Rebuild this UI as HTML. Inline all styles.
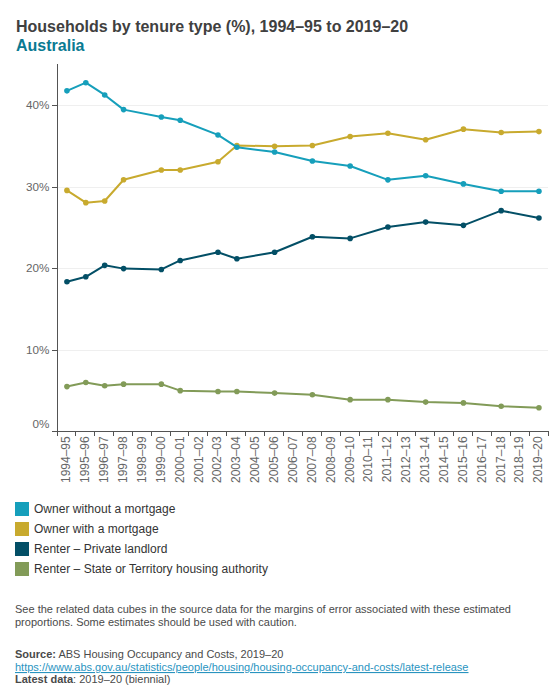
<!DOCTYPE html>
<html><head><meta charset="utf-8"><style>
html,body{margin:0;padding:0;background:#fff;width:560px;height:700px;overflow:hidden}
svg{display:block;font-family:"Liberation Sans", sans-serif}
</style></head><body>
<svg width="560" height="700" viewBox="0 0 560 700">
<rect x="58" y="350" width="490" height="1" fill="#efefef"/>
<rect x="58" y="268" width="490" height="1" fill="#efefef"/>
<rect x="58" y="187" width="490" height="1" fill="#efefef"/>
<rect x="58" y="105" width="490" height="1" fill="#efefef"/>
<rect x="57" y="64" width="1" height="368" fill="#535353"/>
<rect x="52" y="350" width="5" height="1" fill="#535353"/>
<rect x="52" y="268" width="5" height="1" fill="#535353"/>
<rect x="52" y="187" width="5" height="1" fill="#535353"/>
<rect x="52" y="105" width="5" height="1" fill="#535353"/>
<rect x="52" y="431" width="497" height="1" fill="#535353"/>
<rect x="57" y="431" width="1" height="5" fill="#535353"/>
<rect x="75" y="431" width="1" height="5" fill="#535353"/>
<rect x="94" y="431" width="1" height="5" fill="#535353"/>
<rect x="113" y="431" width="1" height="5" fill="#535353"/>
<rect x="132" y="431" width="1" height="5" fill="#535353"/>
<rect x="151" y="431" width="1" height="5" fill="#535353"/>
<rect x="170" y="431" width="1" height="5" fill="#535353"/>
<rect x="188" y="431" width="1" height="5" fill="#535353"/>
<rect x="207" y="431" width="1" height="5" fill="#535353"/>
<rect x="226" y="431" width="1" height="5" fill="#535353"/>
<rect x="245" y="431" width="1" height="5" fill="#535353"/>
<rect x="264" y="431" width="1" height="5" fill="#535353"/>
<rect x="283" y="431" width="1" height="5" fill="#535353"/>
<rect x="302" y="431" width="1" height="5" fill="#535353"/>
<rect x="321" y="431" width="1" height="5" fill="#535353"/>
<rect x="340" y="431" width="1" height="5" fill="#535353"/>
<rect x="359" y="431" width="1" height="5" fill="#535353"/>
<rect x="378" y="431" width="1" height="5" fill="#535353"/>
<rect x="397" y="431" width="1" height="5" fill="#535353"/>
<rect x="415" y="431" width="1" height="5" fill="#535353"/>
<rect x="434" y="431" width="1" height="5" fill="#535353"/>
<rect x="453" y="431" width="1" height="5" fill="#535353"/>
<rect x="472" y="431" width="1" height="5" fill="#535353"/>
<rect x="491" y="431" width="1" height="5" fill="#535353"/>
<rect x="510" y="431" width="1" height="5" fill="#535353"/>
<rect x="529" y="431" width="1" height="5" fill="#535353"/>
<rect x="548" y="431" width="1" height="5" fill="#535353"/>
<text x="49.5" y="108.7" text-anchor="end" font-size="11.7" fill="#666">40%</text>
<text x="49.5" y="190.7" text-anchor="end" font-size="11.7" fill="#666">30%</text>
<text x="49.5" y="271.7" text-anchor="end" font-size="11.7" fill="#666">20%</text>
<text x="49.5" y="353.7" text-anchor="end" font-size="11.7" fill="#666">10%</text>
<text x="49.5" y="427.7" text-anchor="end" font-size="11.7" fill="#666">0%</text>
<text transform="translate(70.34,436.3) rotate(-90)" text-anchor="end" font-size="12" fill="#666">1994–95</text>
<text transform="translate(89.22,436.3) rotate(-90)" text-anchor="end" font-size="12" fill="#666">1995–96</text>
<text transform="translate(108.10,436.3) rotate(-90)" text-anchor="end" font-size="12" fill="#666">1996–97</text>
<text transform="translate(126.98,436.3) rotate(-90)" text-anchor="end" font-size="12" fill="#666">1997–98</text>
<text transform="translate(145.86,436.3) rotate(-90)" text-anchor="end" font-size="12" fill="#666">1998–99</text>
<text transform="translate(164.74,436.3) rotate(-90)" text-anchor="end" font-size="12" fill="#666">1999–00</text>
<text transform="translate(183.62,436.3) rotate(-90)" text-anchor="end" font-size="12" fill="#666">2000–01</text>
<text transform="translate(202.50,436.3) rotate(-90)" text-anchor="end" font-size="12" fill="#666">2001–02</text>
<text transform="translate(221.38,436.3) rotate(-90)" text-anchor="end" font-size="12" fill="#666">2002–03</text>
<text transform="translate(240.26,436.3) rotate(-90)" text-anchor="end" font-size="12" fill="#666">2003–04</text>
<text transform="translate(259.14,436.3) rotate(-90)" text-anchor="end" font-size="12" fill="#666">2004–05</text>
<text transform="translate(278.02,436.3) rotate(-90)" text-anchor="end" font-size="12" fill="#666">2005–06</text>
<text transform="translate(296.90,436.3) rotate(-90)" text-anchor="end" font-size="12" fill="#666">2006–07</text>
<text transform="translate(315.78,436.3) rotate(-90)" text-anchor="end" font-size="12" fill="#666">2007–08</text>
<text transform="translate(334.66,436.3) rotate(-90)" text-anchor="end" font-size="12" fill="#666">2008–09</text>
<text transform="translate(353.54,436.3) rotate(-90)" text-anchor="end" font-size="12" fill="#666">2009–10</text>
<text transform="translate(372.42,436.3) rotate(-90)" text-anchor="end" font-size="12" fill="#666">2010–11</text>
<text transform="translate(391.30,436.3) rotate(-90)" text-anchor="end" font-size="12" fill="#666">2011–12</text>
<text transform="translate(410.18,436.3) rotate(-90)" text-anchor="end" font-size="12" fill="#666">2012–13</text>
<text transform="translate(429.06,436.3) rotate(-90)" text-anchor="end" font-size="12" fill="#666">2013–14</text>
<text transform="translate(447.94,436.3) rotate(-90)" text-anchor="end" font-size="12" fill="#666">2014–15</text>
<text transform="translate(466.82,436.3) rotate(-90)" text-anchor="end" font-size="12" fill="#666">2015–16</text>
<text transform="translate(485.70,436.3) rotate(-90)" text-anchor="end" font-size="12" fill="#666">2016–17</text>
<text transform="translate(504.58,436.3) rotate(-90)" text-anchor="end" font-size="12" fill="#666">2017–18</text>
<text transform="translate(523.46,436.3) rotate(-90)" text-anchor="end" font-size="12" fill="#666">2018–19</text>
<text transform="translate(542.34,436.3) rotate(-90)" text-anchor="end" font-size="12" fill="#666">2019–20</text>
<polyline points="66.94,386.58 85.82,382.50 104.70,385.77 123.58,384.13 161.34,384.13 180.22,390.66 217.98,391.48 236.86,391.48 274.62,393.11 312.38,394.75 350.14,399.64 387.90,399.64 425.66,402.09 463.42,402.91 501.18,406.18 538.94,407.81" fill="none" stroke="#829b58" stroke-width="2" stroke-linejoin="round" stroke-linecap="round"/>
<circle cx="66.94" cy="386.58" r="2.8" fill="#829b58"/>
<circle cx="85.82" cy="382.50" r="2.8" fill="#829b58"/>
<circle cx="104.70" cy="385.77" r="2.8" fill="#829b58"/>
<circle cx="123.58" cy="384.13" r="2.8" fill="#829b58"/>
<circle cx="161.34" cy="384.13" r="2.8" fill="#829b58"/>
<circle cx="180.22" cy="390.66" r="2.8" fill="#829b58"/>
<circle cx="217.98" cy="391.48" r="2.8" fill="#829b58"/>
<circle cx="236.86" cy="391.48" r="2.8" fill="#829b58"/>
<circle cx="274.62" cy="393.11" r="2.8" fill="#829b58"/>
<circle cx="312.38" cy="394.75" r="2.8" fill="#829b58"/>
<circle cx="350.14" cy="399.64" r="2.8" fill="#829b58"/>
<circle cx="387.90" cy="399.64" r="2.8" fill="#829b58"/>
<circle cx="425.66" cy="402.09" r="2.8" fill="#829b58"/>
<circle cx="463.42" cy="402.91" r="2.8" fill="#829b58"/>
<circle cx="501.18" cy="406.18" r="2.8" fill="#829b58"/>
<circle cx="538.94" cy="407.81" r="2.8" fill="#829b58"/>
<polyline points="66.94,281.68 85.82,276.78 104.70,265.35 123.58,268.62 161.34,269.44 180.22,260.46 217.98,252.29 236.86,258.82 274.62,252.29 312.38,236.78 350.14,238.41 387.90,226.98 425.66,222.09 463.42,225.35 501.18,210.66 538.94,218.00" fill="none" stroke="#034f66" stroke-width="2" stroke-linejoin="round" stroke-linecap="round"/>
<circle cx="66.94" cy="281.68" r="2.8" fill="#034f66"/>
<circle cx="85.82" cy="276.78" r="2.8" fill="#034f66"/>
<circle cx="104.70" cy="265.35" r="2.8" fill="#034f66"/>
<circle cx="123.58" cy="268.62" r="2.8" fill="#034f66"/>
<circle cx="161.34" cy="269.44" r="2.8" fill="#034f66"/>
<circle cx="180.22" cy="260.46" r="2.8" fill="#034f66"/>
<circle cx="217.98" cy="252.29" r="2.8" fill="#034f66"/>
<circle cx="236.86" cy="258.82" r="2.8" fill="#034f66"/>
<circle cx="274.62" cy="252.29" r="2.8" fill="#034f66"/>
<circle cx="312.38" cy="236.78" r="2.8" fill="#034f66"/>
<circle cx="350.14" cy="238.41" r="2.8" fill="#034f66"/>
<circle cx="387.90" cy="226.98" r="2.8" fill="#034f66"/>
<circle cx="425.66" cy="222.09" r="2.8" fill="#034f66"/>
<circle cx="463.42" cy="225.35" r="2.8" fill="#034f66"/>
<circle cx="501.18" cy="210.66" r="2.8" fill="#034f66"/>
<circle cx="538.94" cy="218.00" r="2.8" fill="#034f66"/>
<polyline points="66.94,190.40 85.82,202.64 104.70,201.01 123.58,179.78 161.34,169.99 180.22,169.99 217.98,161.82 236.86,145.49 274.62,146.31 312.38,145.49 350.14,136.51 387.90,133.25 425.66,139.78 463.42,129.17 501.18,132.43 538.94,131.61" fill="none" stroke="#c8aa2e" stroke-width="2" stroke-linejoin="round" stroke-linecap="round"/>
<circle cx="66.94" cy="190.40" r="2.8" fill="#c8aa2e"/>
<circle cx="85.82" cy="202.64" r="2.8" fill="#c8aa2e"/>
<circle cx="104.70" cy="201.01" r="2.8" fill="#c8aa2e"/>
<circle cx="123.58" cy="179.78" r="2.8" fill="#c8aa2e"/>
<circle cx="161.34" cy="169.99" r="2.8" fill="#c8aa2e"/>
<circle cx="180.22" cy="169.99" r="2.8" fill="#c8aa2e"/>
<circle cx="217.98" cy="161.82" r="2.8" fill="#c8aa2e"/>
<circle cx="236.86" cy="145.49" r="2.8" fill="#c8aa2e"/>
<circle cx="274.62" cy="146.31" r="2.8" fill="#c8aa2e"/>
<circle cx="312.38" cy="145.49" r="2.8" fill="#c8aa2e"/>
<circle cx="350.14" cy="136.51" r="2.8" fill="#c8aa2e"/>
<circle cx="387.90" cy="133.25" r="2.8" fill="#c8aa2e"/>
<circle cx="425.66" cy="139.78" r="2.8" fill="#c8aa2e"/>
<circle cx="463.42" cy="129.17" r="2.8" fill="#c8aa2e"/>
<circle cx="501.18" cy="132.43" r="2.8" fill="#c8aa2e"/>
<circle cx="538.94" cy="131.61" r="2.8" fill="#c8aa2e"/>
<polyline points="66.94,90.84 85.82,82.68 104.70,94.93 123.58,109.62 161.34,116.97 180.22,120.24 217.98,134.93 236.86,147.18 274.62,152.07 312.38,161.06 350.14,165.95 387.90,179.83 425.66,175.75 463.42,183.91 501.18,191.26 538.94,191.26" fill="none" stroke="#169fbb" stroke-width="2" stroke-linejoin="round" stroke-linecap="round"/>
<circle cx="66.94" cy="90.84" r="2.8" fill="#169fbb"/>
<circle cx="85.82" cy="82.68" r="2.8" fill="#169fbb"/>
<circle cx="104.70" cy="94.93" r="2.8" fill="#169fbb"/>
<circle cx="123.58" cy="109.62" r="2.8" fill="#169fbb"/>
<circle cx="161.34" cy="116.97" r="2.8" fill="#169fbb"/>
<circle cx="180.22" cy="120.24" r="2.8" fill="#169fbb"/>
<circle cx="217.98" cy="134.93" r="2.8" fill="#169fbb"/>
<circle cx="236.86" cy="147.18" r="2.8" fill="#169fbb"/>
<circle cx="274.62" cy="152.07" r="2.8" fill="#169fbb"/>
<circle cx="312.38" cy="161.06" r="2.8" fill="#169fbb"/>
<circle cx="350.14" cy="165.95" r="2.8" fill="#169fbb"/>
<circle cx="387.90" cy="179.83" r="2.8" fill="#169fbb"/>
<circle cx="425.66" cy="175.75" r="2.8" fill="#169fbb"/>
<circle cx="463.42" cy="183.91" r="2.8" fill="#169fbb"/>
<circle cx="501.18" cy="191.26" r="2.8" fill="#169fbb"/>
<circle cx="538.94" cy="191.26" r="2.8" fill="#169fbb"/>
<text x="16" y="31.7" font-size="16" font-weight="bold" fill="#404040">Households by tenure type (%), 1994–95 to 2019–20</text>
<text x="16" y="50.6" font-size="16" font-weight="bold" fill="#0a7a92">Australia</text>
<rect x="15" y="502" width="14" height="14" fill="#169fbb"/>
<text x="34" y="512.9" font-size="12" letter-spacing="0.03" fill="#333">Owner without a mortgage</text>
<rect x="15" y="522" width="14" height="14" fill="#c8aa2e"/>
<text x="34" y="532.9" font-size="12" letter-spacing="0.03" fill="#333">Owner with a mortgage</text>
<rect x="15" y="542" width="14" height="14" fill="#034f66"/>
<text x="34" y="552.9" font-size="12" letter-spacing="0.03" fill="#333">Renter – Private landlord</text>
<rect x="15" y="562" width="14" height="14" fill="#829b58"/>
<text x="34" y="572.9" font-size="12" letter-spacing="0.03" fill="#333">Renter – State or Territory housing authority</text>
<text x="15" y="612.5" font-size="11" fill="#4a4a4a">See the related data cubes in the source data for the margins of error associated with these estimated</text>
<text x="15" y="626" font-size="11" fill="#4a4a4a">proportions. Some estimates should be used with caution.</text>
<text x="15" y="658" font-size="11" fill="#4a4a4a"><tspan font-weight="bold">Source:</tspan> ABS Housing Occupancy and Costs, 2019–20</text>
<text x="15" y="671" font-size="11" fill="#2994bf" text-decoration="underline">https://www.abs.gov.au/statistics/people/housing/housing-occupancy-and-costs/latest-release</text>
<text x="15" y="682.5" font-size="11" fill="#4a4a4a"><tspan font-weight="bold">Latest data</tspan>: 2019–20 (biennial)</text>
</svg>
</body></html>
